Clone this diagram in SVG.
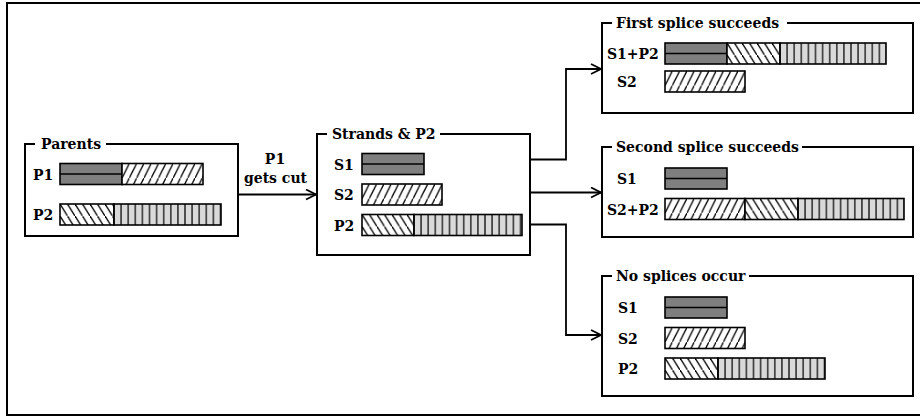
<svg xmlns="http://www.w3.org/2000/svg" width="920" height="418" viewBox="0 0 920 418">
<style>
.frame{fill:#fff;stroke:#000;stroke-width:2}
.box{fill:none;stroke:#000;stroke-width:2}
.lbg{fill:#fff}
.seg{stroke:#000;stroke-width:1.6}
.dark{fill:#7f7f7f}
.fwd{fill:url(#fwd)}
.bwd{fill:url(#bwd)}
.vs{fill:url(#vs)}
.mid{stroke:#000;stroke-width:1.6}
.conn{fill:none;stroke:#000;stroke-width:1.8}
text{font-family:"DejaVu Serif","Liberation Serif",serif;font-weight:bold;font-size:14px;fill:#000}
.c{text-anchor:middle}
</style>
<defs>
<pattern id="fwd" patternUnits="userSpaceOnUse" width="7.3" height="14.6">
<rect width="7.3" height="14.6" fill="#fff"/>
<path d="M-1,16.6 L8.3,-2" stroke="#000" stroke-width="1.3"/>
</pattern>
<pattern id="bwd" patternUnits="userSpaceOnUse" width="7.5" height="12">
<rect width="7.5" height="12" fill="#fff"/>
<path d="M-1,-1.6 L8.5,13.6" stroke="#000" stroke-width="1.3"/>
</pattern>
<pattern id="vs" patternUnits="userSpaceOnUse" width="7.1" height="30">
<rect width="7.1" height="30" fill="#d9d9d9"/>
<path d="M0,0 V30 M7.1,0 V30" stroke="#000" stroke-width="1.2"/>
</pattern>
<marker id="arr" markerUnits="userSpaceOnUse" markerWidth="14" markerHeight="14" refX="11" refY="6" orient="auto">
<path d="M1,1 L11,6 L1,11" fill="none" stroke="#000" stroke-width="1.8"/>
</marker>
</defs>

<rect class="frame" x="7" y="3" width="914" height="412"/>

<g id="connectors">
<line class="conn" x1="238" y1="194.5" x2="316" y2="194.5" marker-end="url(#arr)"/>
<text class="c" x="275" y="164">P1</text>
<text class="c" x="275.5" y="183">gets cut</text>
<polyline class="conn" points="530,159.5 566,159.5 566,69 601,69" marker-end="url(#arr)"/>
<line class="conn" x1="530" y1="192.5" x2="601" y2="192.5" marker-end="url(#arr)"/>
<polyline class="conn" points="530,224.5 566,224.5 566,335 601,335" marker-end="url(#arr)"/>
</g>

<g id="parents">
<rect class="box" x="25" y="144" width="213" height="92"/>
<rect class="lbg" x="35" y="139" width="71" height="10"/>
<text x="41" y="148.5">Parents</text>
<text x="33" y="180">P1</text>
<g transform="translate(60,163.5)">
<rect class="seg dark" width="62" height="21"/><line class="mid" x1="0" y1="10.5" x2="62" y2="10.5"/>
<g transform="translate(62,0)"><rect class="seg fwd" width="81" height="21"/></g>
</g>
<text x="33" y="220">P2</text>
<g transform="translate(60,204)">
<rect class="seg bwd" width="54" height="21"/>
<g transform="translate(54,0)"><rect class="seg vs" width="107" height="21"/></g>
</g>
</g>

<g id="strands">
<rect class="box" x="317" y="134" width="213" height="121"/>
<rect class="lbg" x="327" y="129" width="113" height="10"/>
<text x="332" y="138.5">Strands &amp; P2</text>
<text x="334" y="169.5">S1</text>
<g transform="translate(362,153.5)">
<rect class="seg dark" width="62" height="21"/><line class="mid" x1="0" y1="10.5" x2="62" y2="10.5"/>
</g>
<text x="334" y="200">S2</text>
<g transform="translate(362,184)"><rect class="seg fwd" width="80" height="21"/></g>
<text x="334" y="230.5">P2</text>
<g transform="translate(362,214.5)">
<rect class="seg bwd" width="52" height="21"/>
<g transform="translate(52,0)"><rect class="seg vs" width="108" height="21"/></g>
</g>
</g>

<g id="first">
<rect class="box" x="602" y="23" width="311" height="90"/>
<rect class="lbg" x="612" y="18" width="175" height="10"/>
<text x="616" y="27.5">First splice succeeds</text>
<text x="607" y="59">S1+P2</text>
<g transform="translate(665,43)">
<rect class="seg dark" width="62" height="21"/><line class="mid" x1="0" y1="10.5" x2="62" y2="10.5"/>
<g transform="translate(62,0)"><rect class="seg bwd" width="53" height="21"/></g>
<g transform="translate(115,0)"><rect class="seg vs" width="106" height="21"/></g>
</g>
<text x="617" y="86.5">S2</text>
<g transform="translate(665,71)"><rect class="seg fwd" width="80" height="21"/></g>
</g>

<g id="second">
<rect class="box" x="602" y="147" width="311" height="90"/>
<rect class="lbg" x="612" y="142" width="190" height="10"/>
<text x="616" y="151.5">Second splice succeeds</text>
<text x="617" y="184">S1</text>
<g transform="translate(665,168)">
<rect class="seg dark" width="62" height="21"/><line class="mid" x1="0" y1="10.5" x2="62" y2="10.5"/>
</g>
<text x="607" y="214.5">S2+P2</text>
<g transform="translate(665,198.5)">
<rect class="seg fwd" width="80" height="21"/>
<g transform="translate(80,0)"><rect class="seg bwd" width="53" height="21"/></g>
<g transform="translate(133,0)"><rect class="seg vs" width="106" height="21"/></g>
</g>
</g>

<g id="none">
<rect class="box" x="602" y="276" width="311" height="120"/>
<rect class="lbg" x="612" y="271" width="137" height="10"/>
<text x="616" y="280.5">No splices occur</text>
<text x="618" y="313">S1</text>
<g transform="translate(665,297)">
<rect class="seg dark" width="62" height="21"/><line class="mid" x1="0" y1="10.5" x2="62" y2="10.5"/>
</g>
<text x="618" y="343.5">S2</text>
<g transform="translate(665,327.5)"><rect class="seg fwd" width="80" height="21"/></g>
<text x="618" y="374">P2</text>
<g transform="translate(665,358)">
<rect class="seg bwd" width="53" height="21"/>
<g transform="translate(53,0)"><rect class="seg vs" width="107" height="21"/></g>
</g>
</g>
</svg>
